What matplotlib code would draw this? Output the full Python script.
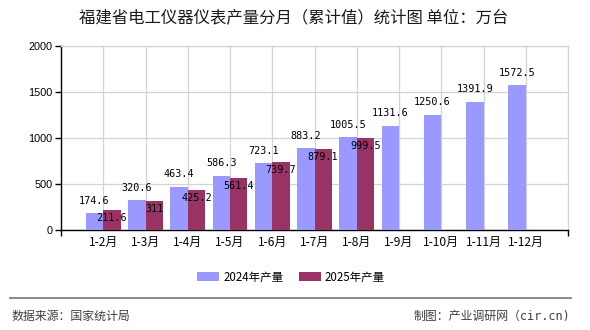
import matplotlib
matplotlib.use("Agg")
import matplotlib.pyplot as plt
from matplotlib.ticker import FixedLocator

plt.rcParams['font.family'] = ['Noto Sans CJK SC', 'DejaVu Sans']

categories = ["1-2月", "1-3月", "1-4月", "1-5月", "1-6月", "1-7月",
              "1-8月", "1-9月", "1-10月", "1-11月", "1-12月"]
values_2024 = [174.6, 320.6, 463.4, 586.3, 723.1, 883.2, 1005.5,
               1131.6, 1250.6, 1391.9, 1572.5]
values_2025 = [211.6, 311, 425.2, 561.4, 739.7, 879.1, 999.5]
series_names = ["2024年产量", "2025年产量"]
yticks = [0, 500, 1000, 1500, 2000]

title = "福建省电工仪器仪表产量分月（累计值）统计图 单位：万台"
source_text = "数据来源：国家统计局"
credit_text = "制图：产业调研网（cir.cn)"

c2024 = "#9999FF"
c2025 = "#993366"
grid_c = "#D3D3D3"

W, H = 590, 330
fig = plt.figure(figsize=(W / 100, H / 100), dpi=100)
ax = fig.add_axes([61 / W, 1 - 229.5 / H, (568 - 61) / W, (229.5 - 46) / H])

bw = 0.41
x24 = list(range(len(values_2024)))
x25 = list(range(len(values_2025)))
b1 = ax.bar([x - bw / 2 for x in x24], values_2024, width=bw, color=c2024,
            label=series_names[0], zorder=3)
b2 = ax.bar([x + bw / 2 for x in x25], values_2025, width=bw, color=c2025,
            label=series_names[1], zorder=3)

lab_font = dict(family=['DejaVu Sans Mono'], fontsize=7.3, color='black')
for x, v in zip(x24, values_2024):
    ax.annotate(f"{v:g}", (x - bw / 2, v), xytext=(0, 12.5),
                textcoords='offset pixels', ha='center', va='center',
                zorder=5, **lab_font)
for x, v in zip(x25, values_2025):
    ax.annotate(f"{v:g}", (x + bw / 2, v), xytext=(0, -8),
                textcoords='offset pixels', ha='center', va='center',
                zorder=5, **lab_font)

ax.set_xlim(-1, len(categories))
ax.set_ylim(0, 2000)
ax.set_xticks(range(len(categories)))
ax.set_xticklabels(categories, fontsize=8.6, family=['Noto Sans CJK SC'])
ax.xaxis.set_minor_locator(FixedLocator([-1, len(categories)]))
ax.tick_params(axis='x', which='major', length=0, pad=4.5)
ax.tick_params(axis='x', which='minor', length=4, width=1, color='black')
ax.set_yticks(yticks)
ax.set_yticklabels([str(t) for t in yticks], fontsize=7.8,
                   family=['Liberation Sans'])
ax.tick_params(axis='y', length=4.3, width=1, color='black', pad=2)

ax.grid(True, color=grid_c, linewidth=0.9, zorder=0)
ax.set_axisbelow(True)
for s in ['top', 'right']:
    ax.spines[s].set_color(grid_c)
    ax.spines[s].set_linewidth(0.9)
for s in ['left', 'bottom']:
    ax.spines[s].set_color('black')
    ax.spines[s].set_linewidth(1.0)

fig.text(294 / W, 1 - 18 / H, title, ha='center', va='center',
         fontsize=11.8, color='#1a1a1a')

fig.legend(handles=[b1, b2], labels=series_names, loc='center',
           bbox_to_anchor=(291 / W, 1 - 277 / H), ncol=2, frameon=False,
           fontsize=8.3, handlelength=1.9, handleheight=0.75,
           handletextpad=0.35, columnspacing=1.35, borderpad=0)

fig.add_artist(plt.Line2D([10 / W, 570.5 / W], [1 - 298.3 / H, 1 - 298.3 / H],
                          color='#808080', linewidth=1.3,
                          transform=fig.transFigure))
fig.text(11.5 / W, 1 - 316.5 / H, source_text, ha='left', va='center',
         fontsize=8.6, color='#404040')
fig.text(570 / W, 1 - 316.5 / H, credit_text, ha='right', va='center',
         fontsize=8.6, color='#404040',
         family=['DejaVu Sans Mono', 'Noto Sans CJK SC'])

fig.savefig("out.png", dpi=100)
